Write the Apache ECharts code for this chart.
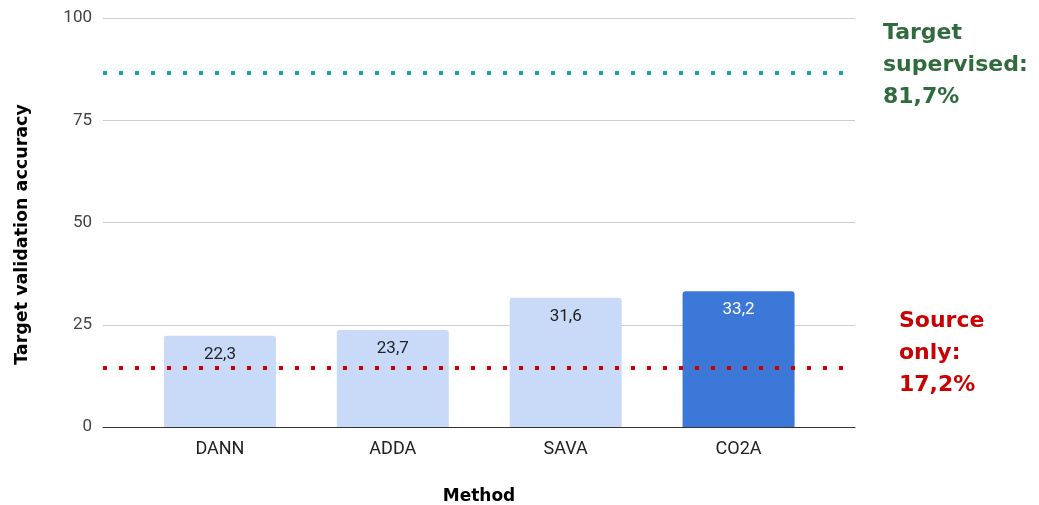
<!DOCTYPE html>
<html>
<head>
<meta charset="utf-8">
<script src="https://cdn.jsdelivr.net/npm/echarts@6/dist/echarts.min.js"></script>
<style>html,body{margin:0;padding:0;background:#fff}#c{width:1039px;height:505px}</style>
</head>
<body>
<div id="c"></div>
<script>
const categories = ['DANN', 'ADDA', 'SAVA', 'CO2A'];
const accuracy = [22.3, 23.7, 31.6, 33.2];
const barColors = ['#c9daf8', '#c9daf8', '#c9daf8', '#3c78d8'];
const labelColors = ['#222222', '#222222', '#222222', '#ffffff'];
const yTicks = { min: 0, max: 100, interval: 25 };
const targetLineValue = 86.6;
const sourceLineValue = 14.4;
const targetText = 'Target\nsupervised:\n81,7%';
const sourceText = 'Source\nonly:\n17,2%';

const chart = echarts.init(document.getElementById('c'), null, { renderer: 'canvas' });
const fmt = v => String(v).replace('.', ',');

chart.setOption({
  animation: false,
  backgroundColor: '#ffffff',
  grid: [
    { left: 103, right: 184, top: 18, bottom: 78, containLabel: false, outerBoundsMode: 'none' },
    { left: 133.5, right: 214, top: 18, bottom: 78, containLabel: false, outerBoundsMode: 'none' }
  ],
  xAxis: [
    {
      gridIndex: 0, type: 'value', min: 0, max: 1,
      axisLine: { show: true, onZero: false, lineStyle: { color: '#333333', width: 1 } },
      axisTick: { show: false }, axisLabel: { show: false }, splitLine: { show: false },
      name: 'Method', nameLocation: 'middle', nameGap: 61,
      nameTextStyle: { fontFamily: 'DejaVu Sans', fontWeight: 'bold', fontSize: 17, color: '#000' }
    },
    {
      gridIndex: 1, type: 'category', data: categories,
      axisLine: { show: false }, axisTick: { show: false },
      axisLabel: { fontFamily: 'Roboto', fontSize: 18, color: '#222', margin: 13 }
    }
  ],
  yAxis: [
    {
      gridIndex: 0, type: 'value', min: yTicks.min, max: yTicks.max, interval: yTicks.interval,
      axisLine: { show: false }, axisTick: { show: false },
      axisLabel: { fontFamily: 'Roboto', fontSize: 17, color: '#444', margin: 11 },
      splitLine: { lineStyle: { color: '#cccccc', width: 1 } },
      name: 'Target validation accuracy', nameLocation: 'middle', nameGap: 72, nameRotate: 90,
      nameTextStyle: { fontFamily: 'DejaVu Sans', fontWeight: 'bold', fontSize: 17.5, color: '#000', padding: [0, 24, 0, 0] }
    },
    {
      gridIndex: 1, type: 'value', min: yTicks.min, max: yTicks.max, show: false
    }
  ],
  series: [
    {
      type: 'bar', xAxisIndex: 1, yAxisIndex: 1, barWidth: 112, z: 2,
      data: accuracy.map((v, i) => ({
        value: v,
        itemStyle: { color: barColors[i], borderRadius: [3, 3, 0, 0] },
        label: { color: labelColors[i] }
      })),
      label: {
        show: true, position: 'insideTop', distance: 10,
        fontFamily: 'Roboto', fontSize: 17,
        formatter: p => fmt(p.value)
      }
    },
    {
      type: 'line', xAxisIndex: 0, yAxisIndex: 0, data: [], z: 5,
      markLine: {
        silent: true, symbol: 'none', label: { show: false },
        data: [
          { yAxis: targetLineValue, lineStyle: { color: '#12a5a5', width: 4, type: [4, 12] } },
          { yAxis: sourceLineValue, lineStyle: { color: '#cc0000', width: 4, type: [4, 12] } }
        ]
      }
    }
  ],
  graphic: [
    {
      type: 'text', left: 883, top: 17,
      style: { text: targetText, fill: '#306b3e', font: 'bold 22px "DejaVu Sans"', lineHeight: 32 }
    },
    {
      type: 'text', left: 899, top: 305,
      style: { text: sourceText, fill: '#cc0000', font: 'bold 22px "DejaVu Sans"', lineHeight: 32 }
    }
  ]
});
</script>
</body>
</html>
